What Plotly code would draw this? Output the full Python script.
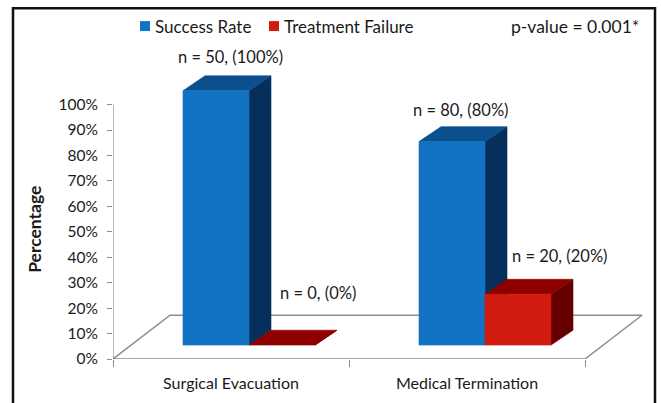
import plotly.graph_objects as go

# ---- data ----
categories = ["Surgical Evacuation", "Medical Termination"]
series_names = ["Success Rate", "Treatment Failure"]
success_rate = [1.00, 0.80]
treatment_failure = [0.00, 0.20]
success_n = [50, 80]
failure_n = [0, 20]
y_tick_values = [0.0, 0.1, 0.2, 0.3, 0.4, 0.5, 0.6, 0.7, 0.8, 0.9, 1.0]
y_tick_labels = ["0%", "10%", "20%", "30%", "40%", "50%", "60%", "70%", "80%", "90%", "100%"]
p_value_text = "p-value = 0.001*"

# ---- styling ----
W, H = 661, 403
L, R, T, B = 113, 11, 40, 42
plot_w, plot_h = W - L - R, H - T - B
px_per_cat = 236.0      # pixels per category slot on the front edge of the floor
px_per_unit = 256.0     # pixels per 100 %

FONT = "Lato, 'Open Sans', sans-serif"
TEXT = "#1a1a1a"
GRID = "#8c8c8c"

front_col = ["#1273c4", "#d21b0f"]
top_col = ["#0b4f8e", "#8e0000"]
side_col = ["#062f5c", "#660000"]

# oblique projection vectors (axis units)
floor_depth = (57 / px_per_cat, 44 / px_per_unit)
bar_plane = (18 / px_per_cat, 14 / px_per_unit)
bar_depth = (22 / px_per_cat, 15 / px_per_unit)
bar_w = 66 / px_per_cat


def px_to_paper(px, py):
    return (px - L) / plot_w, (H - B - py) / plot_h


fig = go.Figure()


def poly(xs, ys, color, width=0.6):
    fig.add_trace(go.Scatter(
        x=xs + [xs[0]], y=ys + [ys[0]], mode="lines", fill="toself",
        fillcolor=color, line=dict(color=color, width=width),
        hoverinfo="skip", showlegend=False))


# floor
n_cat = len(categories)
fdx, fdy = floor_depth
fig.add_trace(go.Scatter(
    x=[0, n_cat, n_cat + fdx, fdx, 0], y=[0, 0, fdy, fdy, 0],
    mode="lines", line=dict(color=GRID, width=1.5),
    hoverinfo="skip", showlegend=False))

# value axis line
fig.add_trace(go.Scatter(
    x=[0, 0], y=[y_tick_values[0], y_tick_values[-1]], mode="lines",
    line=dict(color=GRID, width=1.2), hoverinfo="skip", showlegend=False))

# 3-D bars
ox, oy = bar_plane
bdx, bdy = bar_depth
series = [success_rate, treatment_failure]
counts = [success_n, failure_n]
label_nudge = {(0, 0): (-8, 19), (1, 0): (14, 37), (0, 1): (-13, 17), (1, 1): (20, 23)}
annotations = []

for ci in range(n_cat):
    center = ci + 0.5
    for si, vals in enumerate(series):
        v = vals[ci]
        x0 = center - bar_w + si * bar_w + ox
        x1 = x0 + bar_w
        y0, y1 = oy, oy + v
        # side face
        poly([x1, x1 + bdx, x1 + bdx, x1], [y0, y0 + bdy, y1 + bdy, y1], side_col[si])
        # top face
        poly([x0, x1, x1 + bdx, x0 + bdx], [y1, y1, y1 + bdy, y1 + bdy], top_col[si])
        # front face
        if v > 0:
            poly([x0, x1, x1, x0], [y0, y0, y1, y1], front_col[si])
        nx, ny = label_nudge[(si, ci)]
        annotations.append(dict(
            x=(x0 + x1) / 2 + bdx, y=y1 + bdy, xref="x", yref="y",
            text=f"n = {counts[si][ci]}, ({v:.0%})", showarrow=False,
            xshift=nx, yshift=ny, yanchor="middle",
            font=dict(family=FONT, size=16.5, color=TEXT)))

# legend (manual, compact swatches)
legend_x = [140, 269]
shapes = []
for si, name in enumerate(series_names):
    sx0, sy0 = px_to_paper(legend_x[si], 31)
    sx1, sy1 = px_to_paper(legend_x[si] + 10, 21)
    shapes.append(dict(type="rect", xref="paper", yref="paper",
                       x0=sx0, y0=sy0, x1=sx1, y1=sy1,
                       fillcolor=front_col[si], line=dict(width=0)))
    tx, ty = px_to_paper(legend_x[si] + 13, 26)
    annotations.append(dict(x=tx, y=ty, xref="paper", yref="paper", text=name,
                            showarrow=False, xanchor="left", yanchor="middle",
                            font=dict(family=FONT, size=17, color=TEXT)))

px_, py_ = px_to_paper(641, 26)
annotations.append(dict(x=px_, y=py_, xref="paper", yref="paper", text=p_value_text,
                        showarrow=False, xanchor="right", yanchor="middle",
                        font=dict(family=FONT, size=17.5, color=TEXT)))

# axis title
tx, ty = px_to_paper(35, 230)
annotations.append(dict(x=tx, y=ty, xref="paper", yref="paper", text="<b>Percentage</b>",
                        textangle=-90, showarrow=False, xanchor="center", yanchor="middle",
                        font=dict(family=FONT, size=17.5, color=TEXT)))

# outer frame
fx0, fy0 = px_to_paper(13, 8)
fx1, fy1 = px_to_paper(655, 420)
shapes.append(dict(type="rect", xref="paper", yref="paper",
                   x0=fx0, y0=fy1, x1=fx1, y1=fy0,
                   line=dict(color="#111111", width=2.5), fillcolor="rgba(0,0,0,0)"))

fig.update_layout(
    width=W, height=H,
    margin=dict(l=L, r=R, t=T, b=B),
    paper_bgcolor="white", plot_bgcolor="white",
    showlegend=False,
    annotations=annotations, shapes=shapes,
    xaxis=dict(range=[0, plot_w / px_per_cat], showgrid=False, zeroline=False,
               showline=False, tickvals=[c + 0.5 for c in range(n_cat)],
               ticktext=categories, ticks="", ticklabelstandoff=13,
               tickfont=dict(family=FONT, size=16, color=TEXT),
               minor=dict(tickvals=list(range(n_cat + 1)), ticks="outside",
                          ticklen=7, tickcolor=GRID, tickwidth=1.2),
               fixedrange=True),
    yaxis=dict(range=[0, plot_h / px_per_unit], showgrid=False, zeroline=False,
               showline=False, tickvals=y_tick_values, ticktext=y_tick_labels,
               ticks="outside", ticklen=5, tickcolor=GRID, tickwidth=1.2,
               ticklabelstandoff=6,
               tickfont=dict(family=FONT, size=15.5, color=TEXT), fixedrange=True),
)

fig.write_html("out.html")
